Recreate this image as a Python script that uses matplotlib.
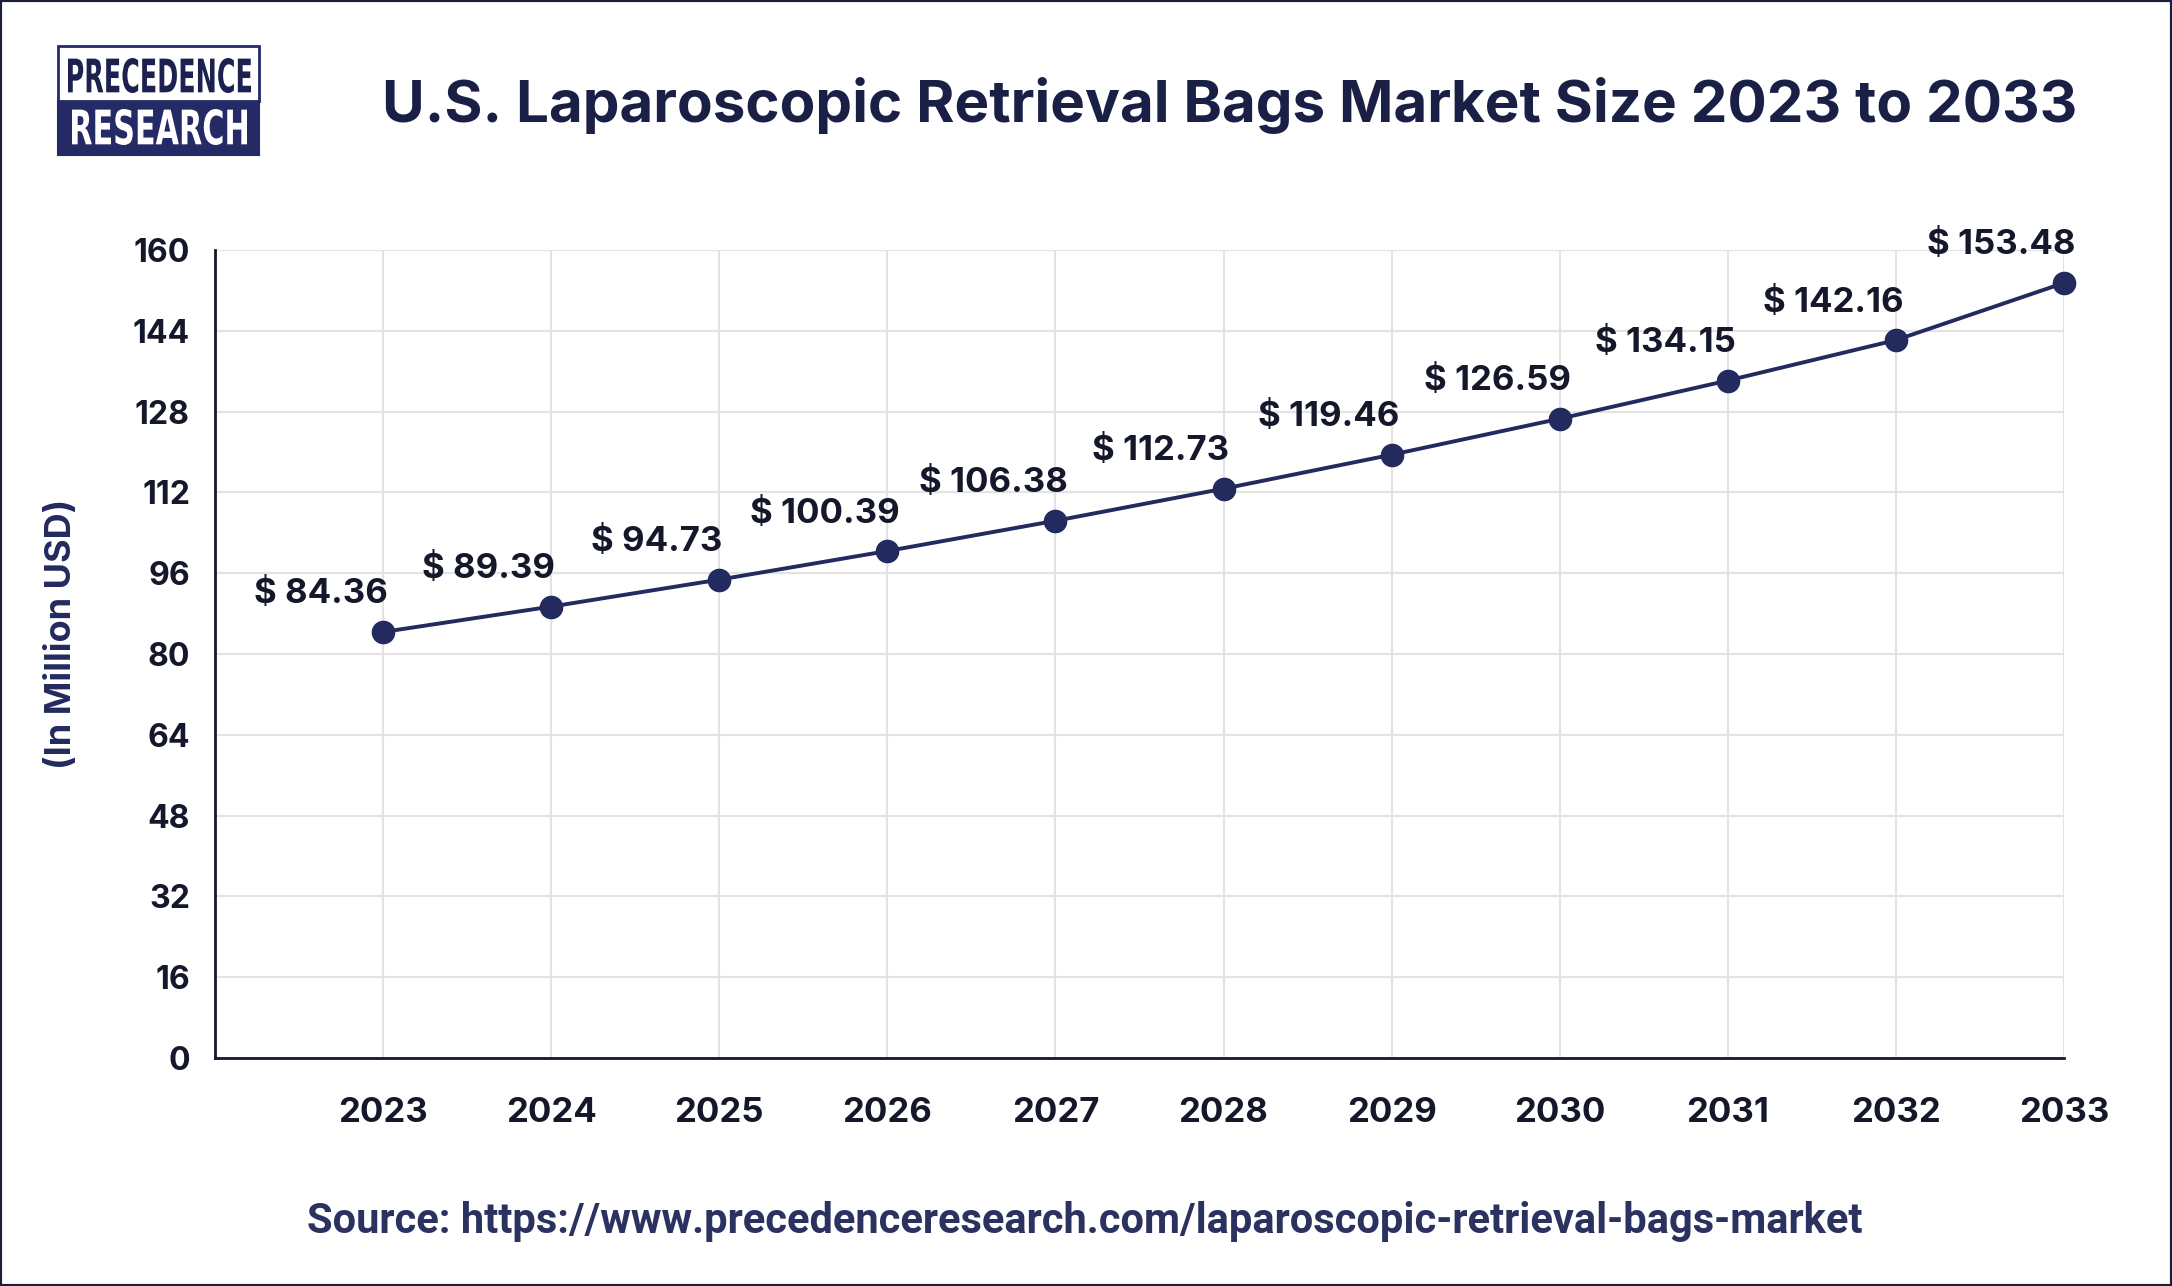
import matplotlib
matplotlib.use("Agg")
import matplotlib.pyplot as plt
from matplotlib.patches import Rectangle, PathPatch
from matplotlib.textpath import TextPath
from matplotlib.font_manager import FontProperties
from matplotlib.transforms import Affine2D

years = [2023, 2024, 2025, 2026, 2027, 2028, 2029, 2030, 2031, 2032, 2033]
values = [84.36, 89.39, 94.73, 100.39, 106.38, 112.73, 119.46, 126.59, 134.15, 142.16, 153.48]
y_ticks = [0, 16, 32, 48, 64, 80, 96, 112, 128, 144, 160]

title = "U.S. Laparoscopic Retrieval Bags Market Size 2023 to 2033"
source = "Source: https://www.precedenceresearch.com/laparoscopic-retrieval-bags-market"

navy = "#222a5e"
dark = "#15182b"

W, H = 2172, 1286
fig = plt.figure(figsize=(W / 100, H / 100), dpi=100)
fig.patch.set_facecolor("white")

ax = fig.add_axes([215 / W, 228 / H, (2064 - 215) / W, (1058 - 250) / H])
ax.plot(years, values, color=navy, lw=2.8, marker="o", ms=16, mfc=navy, mec=navy, zorder=3, clip_on=False)

for x, v in zip(years, values):
    ax.annotate(f"$ {v:.2f}", (x, v), xytext=(-45, 27), textcoords="offset points",
                ha="center", va="center", fontsize=25, fontweight="bold",
                family="Inter", color=dark, zorder=4)

ax.set_xlim(2022, 2033)
ax.set_ylim(0, 160)
ax.set_xticks(years)
ax.set_yticks(y_ticks)
ax.set_xticklabels([str(y) for y in years], fontsize=25, fontweight="bold", family="Inter", color=dark)
ax.set_yticklabels([str(t) for t in y_ticks], fontsize=23, fontweight="bold", family="Inter", color=dark)
ax.tick_params(axis="x", length=0, pad=28)
ax.tick_params(axis="y", length=0, pad=18)
ax.grid(True, color="#e3e3e6", lw=1.5)
ax.set_axisbelow(True)
for s in ["top", "right"]:
    ax.spines[s].set_visible(False)
for s in ["left", "bottom"]:
    ax.spines[s].set_color(dark)
    ax.spines[s].set_linewidth(2)

fig.text(62 / W, 1 - 634 / H, "(In Million USD)", rotation=90, ha="center", va="center",
         fontsize=26, fontweight="bold", family="Inter", color=navy)

fig.text(1230 / W, 1 - 105 / H, title, ha="center", va="center", fontsize=42,
         fontweight="bold", family="Inter", color="#1a1f45")
fig.text(1085 / W, 1 - 1221 / H, source, ha="center", va="center", fontsize=30,
         fontweight="bold", family="Roboto", color="#2b3260")

# logo
def px(x, y):
    return x / W, 1 - y / H

bx0, bx1, by0, bmid, by1 = 58, 259, 46, 101, 155
fig.add_artist(Rectangle(px(bx0, by1), (bx1 - bx0) / W, (by1 - bmid) / H,
                         transform=fig.transFigure, facecolor="#232a66", edgecolor="#232a66", lw=1.5))
fig.add_artist(Rectangle(px(bx0, bmid), (bx1 - bx0) / W, (bmid - by0) / H,
                         transform=fig.transFigure, facecolor="white", edgecolor="#232a66", lw=2))

fp = FontProperties(family="DejaVu Sans", weight="bold")


def fit_text(s, x0, y0, x1, y1, color):
    tp = TextPath((0, 0), s, size=100, prop=fp)
    bb = tp.get_extents()
    fx0, fy0 = px(x0, y1)
    fx1, fy1 = px(x1, y0)
    tr = Affine2D().translate(-bb.x0, -bb.y0).scale((fx1 - fx0) / bb.width, (fy1 - fy0) / bb.height).translate(fx0, fy0)
    fig.add_artist(PathPatch(tr.transform_path(tp), facecolor=color, lw=0, transform=fig.transFigure))


fit_text("PRECEDENCE", 68, 58, 251, 93, "#1c2150")
fit_text("RESEARCH", 72, 109, 247, 145, "white")

# outer frame
fig.add_artist(Rectangle((0, 0), 1, 1, transform=fig.transFigure, fill=False,
                         edgecolor="#1a1f3a", lw=3))

fig.savefig("out.png", dpi=100)
